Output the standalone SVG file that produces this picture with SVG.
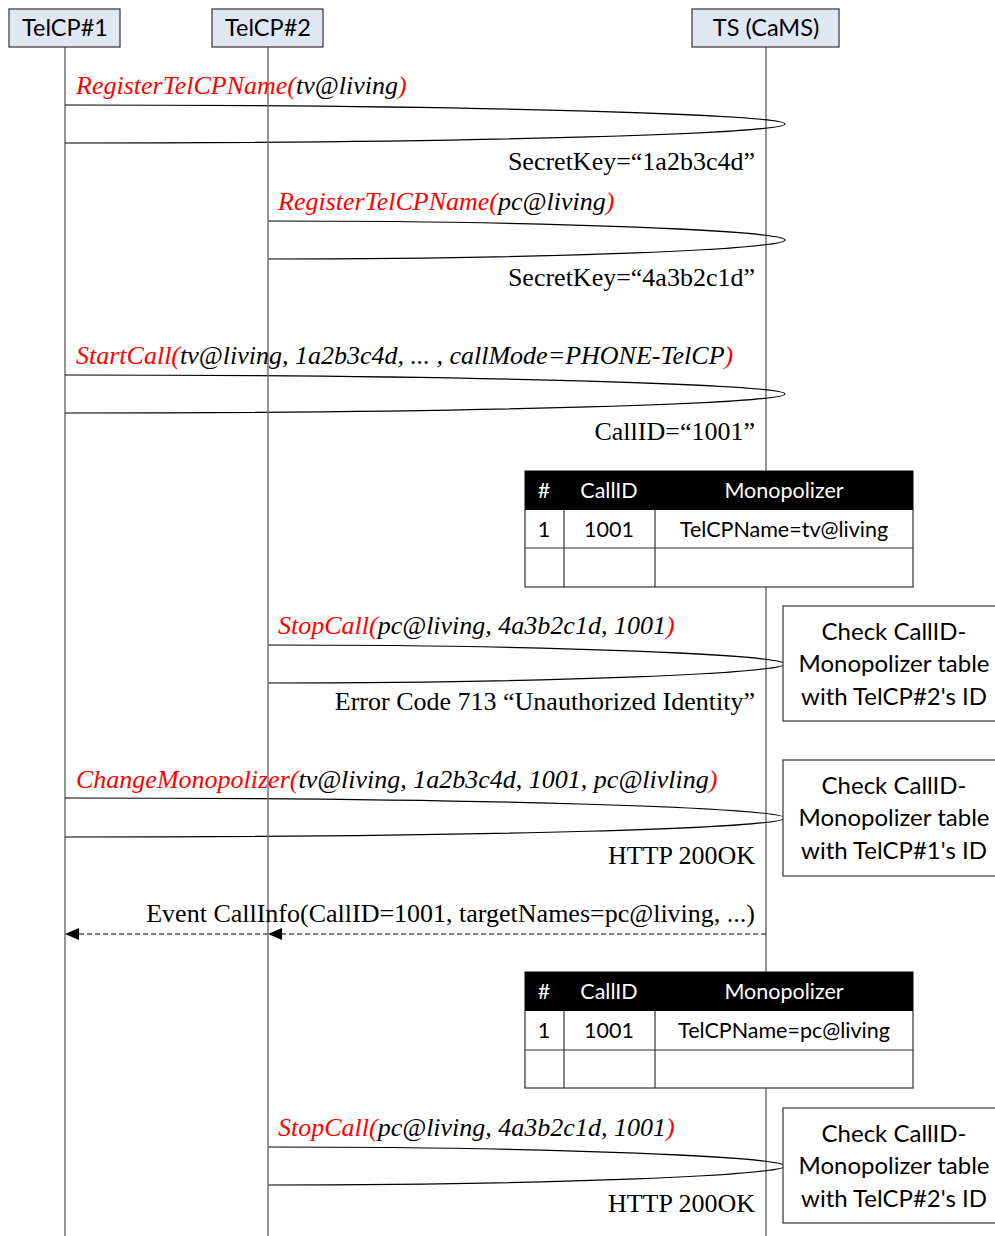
<svg xmlns="http://www.w3.org/2000/svg" width="995" height="1236" viewBox="0 0 995 1236">
<style>
.hdr{fill:#dfe7f3;stroke:#333;stroke-width:1.2}
.hdrt{font-family:Lato,"Open Sans",sans-serif;font-size:23.5px;text-anchor:middle;fill:#000}
.life{stroke:#707070;stroke-width:1.5}
.msg{font-family:"Liberation Serif",serif;font-style:italic;font-size:26px;fill:#000}
.red{fill:#ff0000}
.rep{font-family:"Liberation Serif",serif;font-size:26px;fill:#000;text-anchor:end}
.loop{fill:none;stroke:#000;stroke-width:1.2}
.tbl{fill:#fff;stroke:#333;stroke-width:1.2}
.th{fill:#000}
.tht{font-family:Lato,"Open Sans",sans-serif;font-size:21.5px;fill:#fff;text-anchor:middle}
.tdt{font-family:Lato,"Open Sans",sans-serif;font-size:21.5px;fill:#000;text-anchor:middle}
.box{fill:#fff;stroke:#333;stroke-width:1.2}
.boxt{font-family:Lato,"Open Sans",sans-serif;font-size:24px;fill:#000;text-anchor:middle}
.dash{stroke:#000;stroke-width:1.2;stroke-dasharray:5 3;fill:none}
</style>
<rect width="995" height="1236" fill="#fff"/>

<g id="lifelines">
<line class="life" x1="65" y1="47" x2="65" y2="1236"/>
<line class="life" x1="766" y1="47" x2="766" y2="1236" stroke="#555"/>
</g>

<g id="connectors">
<path class="loop" d="M65,105 C500,105 785,115 785,124 C785,133 500,143 65,143"/>
<path class="loop" d="M268,221 C560,221 785,231 785,240 C785,249 560,259 268,259"/>
<path class="loop" d="M65,375 C500,375 785,385 785,394 C785,403 500,413 65,413"/>
<path class="loop" d="M268,645 C560,645 785,655 785,664 C785,673 560,683 268,683"/>
<path class="loop" d="M65,798 C500,798 785,808 785,818 C785,828 500,837 65,837"/>
<line class="dash" x1="766" y1="934" x2="282" y2="934"/>
<line class="dash" x1="268" y1="934" x2="79" y2="934"/>
<path d="M268,934 L282,928 L282,940 Z" fill="#000"/>
<path d="M65,934 L79,928 L79,940 Z" fill="#000"/>
<path class="loop" d="M268,1147 C560,1147 785,1157 785,1166 C785,1175 560,1185 268,1185"/>
</g>

<g id="lifeline2">
<line class="life" x1="268" y1="47" x2="268" y2="1236"/>
</g>

<g id="telcp1"><rect class="hdr" x="9" y="9" width="111" height="38"/><text class="hdrt" x="65" y="36">TelCP#1</text></g>
<g id="telcp2"><rect class="hdr" x="212" y="9" width="111" height="38"/><text class="hdrt" x="268" y="36">TelCP#2</text></g>
<g id="ts"><rect class="hdr" x="692" y="9" width="147" height="38"/><text class="hdrt" x="766" y="36">TS (CaMS)</text></g>

<g id="labels">
<text class="msg" x="76" y="94"><tspan class="red">RegisterTelCPName(</tspan>tv@living<tspan class="red">)</tspan></text>
<text class="rep" x="755" y="170">SecretKey=“1a2b3c4d”</text>
<text class="msg" x="278" y="210"><tspan class="red">RegisterTelCPName(</tspan>pc@living<tspan class="red">)</tspan></text>
<text class="rep" x="755" y="286">SecretKey=“4a3b2c1d”</text>
<text class="msg" x="76" y="364"><tspan class="red">StartCall(</tspan>tv@living, 1a2b3c4d, ... , callMode=PHONE-TelCP<tspan class="red">)</tspan></text>
<text class="rep" x="755" y="440">CallID=“1001”</text>
<text class="msg" x="278" y="634"><tspan class="red">StopCall(</tspan>pc@living, 4a3b2c1d, 1001<tspan class="red">)</tspan></text>
<text class="rep" x="755" y="710">Error Code 713 “Unauthorized Identity”</text>
<text class="msg" x="76" y="788"><tspan class="red">ChangeMonopolizer(</tspan>tv@living, 1a2b3c4d, 1001, pc@livling<tspan class="red">)</tspan></text>
<text class="rep" x="755" y="864">HTTP 200OK</text>
<text class="rep" x="755" y="922">Event CallInfo(CallID=1001, targetNames=pc@living, ...)</text>
<text class="msg" x="278" y="1136"><tspan class="red">StopCall(</tspan>pc@living, 4a3b2c1d, 1001<tspan class="red">)</tspan></text>
<text class="rep" x="755" y="1212">HTTP 200OK</text>
</g>

<g id="table1">
<rect class="tbl" x="525" y="471" width="388" height="116"/>
<rect class="th" x="525" y="471" width="388" height="39"/>
<line stroke="#333" stroke-width="1.2" x1="525" y1="548" x2="913" y2="548"/>
<line stroke="#333" stroke-width="1.2" x1="564" y1="510" x2="564" y2="587"/>
<line stroke="#333" stroke-width="1.2" x1="655" y1="510" x2="655" y2="587"/>
<text class="tht" x="544" y="498">#</text>
<text class="tht" x="609" y="498">CallID</text>
<text class="tht" x="784" y="498">Monopolizer</text>
<text class="tdt" x="544" y="537">1</text>
<text class="tdt" x="609" y="537">1001</text>
<text class="tdt" x="784" y="537">TelCPName=tv@living</text>
</g>

<g id="table2">
<rect class="tbl" x="525" y="972" width="388" height="116"/>
<rect class="th" x="525" y="972" width="388" height="39"/>
<line stroke="#333" stroke-width="1.2" x1="525" y1="1050" x2="913" y2="1050"/>
<line stroke="#333" stroke-width="1.2" x1="564" y1="1011" x2="564" y2="1088"/>
<line stroke="#333" stroke-width="1.2" x1="655" y1="1011" x2="655" y2="1088"/>
<text class="tht" x="544" y="999">#</text>
<text class="tht" x="609" y="999">CallID</text>
<text class="tht" x="784" y="999">Monopolizer</text>
<text class="tdt" x="544" y="1038">1</text>
<text class="tdt" x="609" y="1038">1001</text>
<text class="tdt" x="784" y="1038">TelCPName=pc@living</text>
</g>

<g id="check1">
<rect class="box" x="783" y="606" width="220" height="115"/>
<text class="boxt" x="894" y="640">Check CallID-</text>
<text class="boxt" x="894" y="672">Monopolizer table</text>
<text class="boxt" x="894" y="705">with TelCP#2's ID</text>
</g>
<g id="check2">
<rect class="box" x="783" y="760" width="220" height="116"/>
<text class="boxt" x="894" y="794">Check CallID-</text>
<text class="boxt" x="894" y="826">Monopolizer table</text>
<text class="boxt" x="894" y="859">with TelCP#1's ID</text>
</g>
<g id="check3">
<rect class="box" x="783" y="1108" width="220" height="115"/>
<text class="boxt" x="894" y="1142">Check CallID-</text>
<text class="boxt" x="894" y="1174">Monopolizer table</text>
<text class="boxt" x="894" y="1207">with TelCP#2's ID</text>
</g>
</svg>
